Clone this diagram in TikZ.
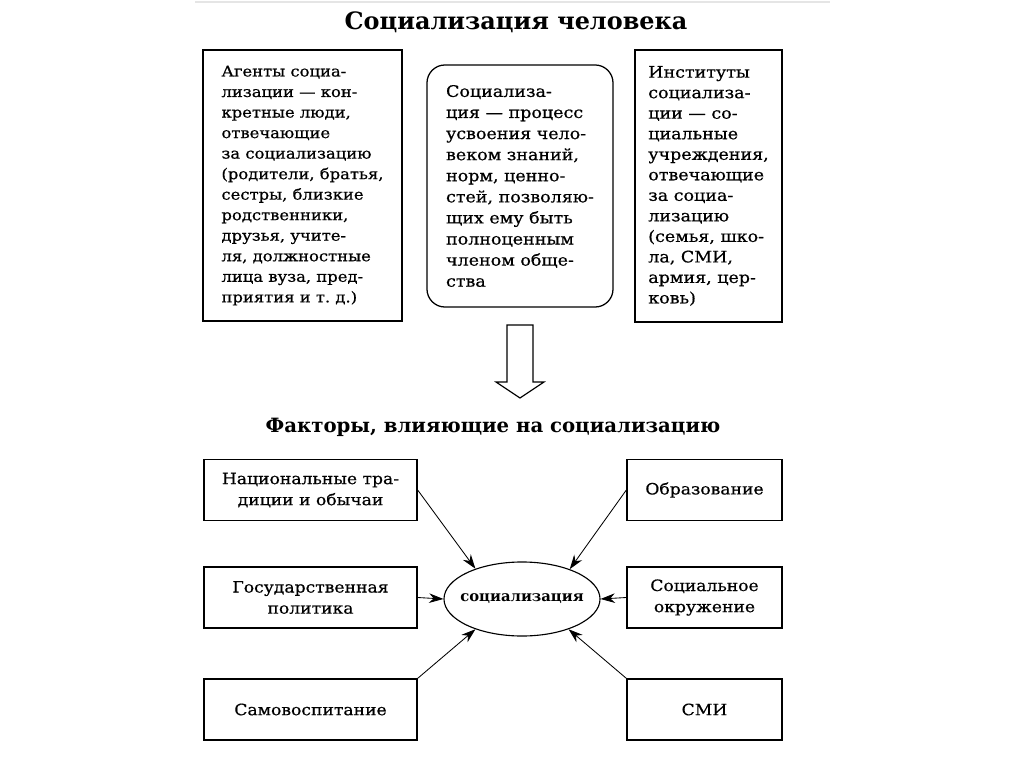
\documentclass[tikz,border=0pt]{standalone}
\usepackage{fontspec}
\setmainfont{DejaVu Serif}
\newfontfamily\bodyfont[FakeStretch=1.1, FakeBold=0.6]{DejaVu Serif}
\usetikzlibrary{arrows.meta,shapes.geometric}

\begin{document}
\begin{tikzpicture}[
  x=0.025cm, y=-0.025cm,
  defbox/.style={draw, line width=0.9pt, align=left, inner xsep=0pt, inner ysep=0pt, font=\bodyfont\fontsize{#1}{14.6}\selectfont},
  factor/.style={draw, line width=0.9pt, align=center, minimum height=1.525cm, font=\bodyfont\fontsize{11.1}{15}\selectfont},
  heading/.style={font=\bfseries\fontsize{#1}{19}\selectfont},
  arr/.style={-{Stealth[length=3.6mm, width=2.4mm]}, line width=0.6pt}
]
\useasboundingbox (0,0) rectangle (1024,767);
\draw[gray!20, line width=2pt] (195,2) -- (830,2);

\node[heading=17] (t1) at (516,22) {Социализация человека};
\node[defbox=10.6, minimum width=4.975cm, minimum height=6.775cm] (agents) at (302.5,185.5)
  {Агенты социа-\\лизации — кон-\\кретные люди,\\отвечающие\\за социализацию\\(родители, братья,\\сестры, близкие\\родственники,\\друзья, учите-\\ля, должностные\\лица вуза, пред-\\приятия и т.~д.)};
\node[defbox=11.3, rounded corners=0.45cm, minimum width=4.65cm, minimum height=6.05cm,
  font=\bodyfont\fontsize{11.3}{15}\selectfont] (proc) at (520,186)
  {Социализа-\\ция — процесс\\усвоения чело-\\веком знаний,\\норм, ценно-\\стей, позволяю-\\щих ему быть\\полноценным\\членом обще-\\ства};
\node[defbox=11.3, minimum width=3.675cm, minimum height=6.8cm] (inst) at (708.5,186)
  {Институты\\социализа-\\ции — со-\\циальные\\учреждения,\\отвечающие\\за социа-\\лизацию\\(семья, шко-\\ла, СМИ,\\армия, цер-\\ковь)};

\draw[line width=0.8pt] (507,325) -- (533,325) -- (533,382) -- (544,382) -- (520,398)
  -- (496,382) -- (507,382) -- cycle;

\node[heading=14] (t2) at (493,427) {Факторы, влияющие на социализацию};

\node[ellipse, draw, line width=0.8pt, minimum width=3.9cm, minimum height=1.85cm, inner xsep=-0.2cm, inner ysep=0pt,
  font=\bfseries\fontsize{10.5}{13}\selectfont] (soc) at (522,599) {социализация};

\node[factor, minimum width=5.325cm] (nat) at (310.5,490) {Национальные тра-\\диции и обычаи};
\node[factor, minimum width=5.325cm] (gos) at (310.5,597.5) {Государственная\\политика};
\node[factor, minimum width=5.325cm] (sam) at (310.5,709.5) {Самовоспитание};
\node[factor, minimum width=3.875cm] (obr) at (704.5,490) {Образование};
\node[factor, minimum width=3.875cm] (okr) at (704.5,597.5) {Социальное\\окружение};
\node[factor, minimum width=3.875cm] (smi) at (704.5,709.5) {СМИ};

\draw[arr] (nat.east) -- (soc.147);
\draw[arr] (gos.east) -- (soc.west);
\draw[arr] (sam.north east) -- (soc.213);
\draw[arr] (obr.west) -- (soc.32);
\draw[arr] (okr.west) -- (soc.east);
\draw[arr] (smi.north west) -- (soc.327);
\end{tikzpicture}
\end{document}
